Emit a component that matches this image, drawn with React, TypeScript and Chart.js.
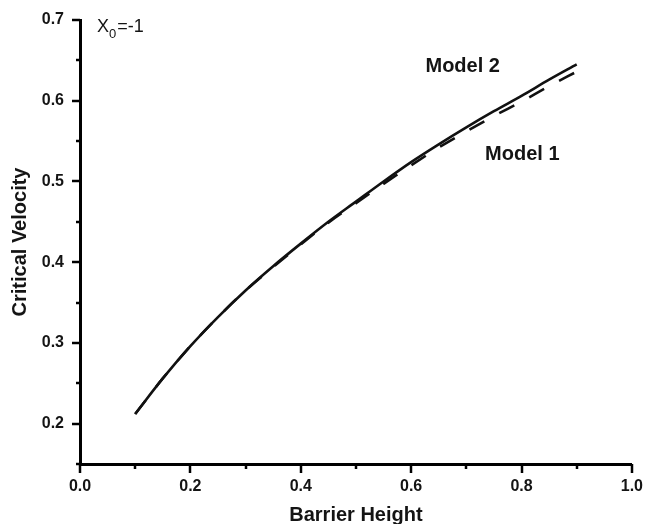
import React, { useEffect, useRef } from "react";
import { Chart, registerables } from "chart.js";

Chart.register(...registerables);

const barrierHeight = [0.1, 0.15, 0.2, 0.25, 0.3, 0.35, 0.4, 0.45, 0.5, 0.55, 0.6, 0.65, 0.7, 0.75, 0.8, 0.85, 0.9];
const model2 = [0.212, 0.256, 0.296, 0.332, 0.365, 0.395, 0.423, 0.450, 0.475, 0.500, 0.524, 0.546, 0.567, 0.587, 0.606, 0.626, 0.645];
const model1 = [0.212, 0.256, 0.296, 0.332, 0.365, 0.394, 0.422, 0.449, 0.473, 0.497, 0.520, 0.542, 0.562, 0.581, 0.599, 0.618, 0.636];
const xTicks = [0, 0.2, 0.4, 0.6, 0.8, 1.0];
const yTicks = [0.2, 0.3, 0.4, 0.5, 0.6, 0.7];
const xMinor = [0.1, 0.3, 0.5, 0.7, 0.9];
const yMinor = [0.15, 0.25, 0.35, 0.45, 0.55, 0.65];

const FONT = "'Liberation Sans', Arial, Helvetica, sans-serif";
const INK = "#111111";
const TEXT = "#141414";

const annotationPlugin = {
  id: "annots",
  afterDraw(chart: any) {
    const ctx = chart.ctx;
    const xs = chart.scales.x;
    const ys = chart.scales.y;
    const bottom = chart.chartArea.bottom;
    const left = chart.chartArea.left;
    ctx.save();
    ctx.strokeStyle = "#000";
    ctx.lineWidth = 2.5;
    ctx.lineCap = "butt";
    xTicks.forEach((v) => {
      const p = Math.round(xs.getPixelForValue(v));
      ctx.beginPath(); ctx.moveTo(p, bottom); ctx.lineTo(p, bottom + 9); ctx.stroke();
    });
    xMinor.forEach((v) => {
      const p = Math.round(xs.getPixelForValue(v));
      ctx.beginPath(); ctx.moveTo(p, bottom); ctx.lineTo(p, bottom + 5); ctx.stroke();
    });
    yTicks.forEach((v) => {
      const p = Math.round(ys.getPixelForValue(v));
      ctx.beginPath(); ctx.moveTo(left - 8, p); ctx.lineTo(left, p); ctx.stroke();
    });
    yMinor.forEach((v) => {
      const p = Math.round(ys.getPixelForValue(v));
      ctx.beginPath(); ctx.moveTo(left - 4, p); ctx.lineTo(left, p); ctx.stroke();
    });

    ctx.fillStyle = TEXT;
    ctx.textBaseline = "alphabetic";
    ctx.textAlign = "left";
    // X0 = -1
    let tx = xs.getPixelForValue(0.031);
    const ty = ys.getPixelForValue(0.6857);
    ctx.font = `18px ${FONT}`;
    ctx.fillText("X", tx, ty);
    tx += ctx.measureText("X").width;
    ctx.font = `13px ${FONT}`;
    ctx.fillText("0", tx, ty + 6);
    tx += ctx.measureText("0").width + 1;
    ctx.font = `18px ${FONT}`;
    ctx.fillText("=-1", tx, ty);

    ctx.font = `bold 20px ${FONT}`;
    ctx.fillText("Model 2", xs.getPixelForValue(0.626), ys.getPixelForValue(0.636));
    ctx.fillText("Model 1", xs.getPixelForValue(0.734), ys.getPixelForValue(0.5267));
    ctx.restore();
  },
};

export default function App() {
  const ref = useRef<HTMLCanvasElement | null>(null);
  useEffect(() => {
    if (!ref.current) return;
    const chart = new Chart(ref.current, {
      type: "line",
      data: {
        datasets: [
          {
            label: "Model 1",
            data: barrierHeight.map((x, i) => ({ x, y: model1[i] })),
            borderColor: INK,
            borderWidth: 2.6,
            borderDash: [17, 17],
            pointRadius: 0,
            cubicInterpolationMode: "monotone",
            fill: false,
          },
          {
            label: "Model 2",
            data: barrierHeight.map((x, i) => ({ x, y: model2[i] })),
            borderColor: INK,
            borderWidth: 2.6,
            pointRadius: 0,
            cubicInterpolationMode: "monotone",
            fill: false,
          },
        ],
      },
      options: {
        animation: false,
        responsive: false,
        layout: { padding: { top: 20, right: 11, left: 0, bottom: 0 } },
        plugins: { legend: { display: false }, tooltip: { enabled: false } },
        scales: {
          x: {
            type: "linear",
            min: 0,
            max: 1,
            afterBuildTicks: (s: any) => { s.ticks = xTicks.map((v) => ({ value: v })); },
            afterFit: (s: any) => { s.height = 60; },
            grid: { display: true, drawOnChartArea: false, drawTicks: true, tickLength: 9, tickColor: "rgba(0,0,0,0)" },
            border: { display: true, color: "#000", width: 3 },
            ticks: {
              font: { family: FONT, size: 16, weight: "bold" },
              color: TEXT,
              padding: 4,
              maxRotation: 0,
              autoSkip: false,
              callback: (v: any) => Number(v).toFixed(1),
            },
            title: {
              display: true,
              text: "Barrier Height",
              color: TEXT,
              font: { family: FONT, size: 20, weight: "bold" },
              padding: { top: 0, bottom: -3 },
            },
          },
          y: {
            type: "linear",
            min: 0.15,
            max: 0.7,
            afterBuildTicks: (s: any) => { s.ticks = yTicks.map((v) => ({ value: v })); },
            afterFit: (s: any) => { s.width = 80; },
            grid: { display: true, drawOnChartArea: false, drawTicks: true, tickLength: 8, tickColor: "rgba(0,0,0,0)" },
            border: { display: true, color: "#000", width: 3 },
            ticks: {
              font: { family: FONT, size: 16, weight: "bold" },
              color: TEXT,
              padding: 8,
              autoSkip: false,
              callback: (v: any) => Number(v).toFixed(1),
            },
            title: {
              display: true,
              text: "Critical Velocity",
              color: TEXT,
              font: { family: FONT, size: 20, weight: "bold" },
              padding: { top: 8, bottom: 0 },
            },
          },
        },
      },
      plugins: [annotationPlugin],
    } as any);
    return () => chart.destroy();
  }, []);
  return (
    <div style={{ position: "fixed", left: 0, top: 0, width: 647, height: 524, background: "#fff" }}>
      <canvas ref={ref} width={647} height={524} style={{ display: "block", width: 647, height: 524 }} />
    </div>
  );
}
